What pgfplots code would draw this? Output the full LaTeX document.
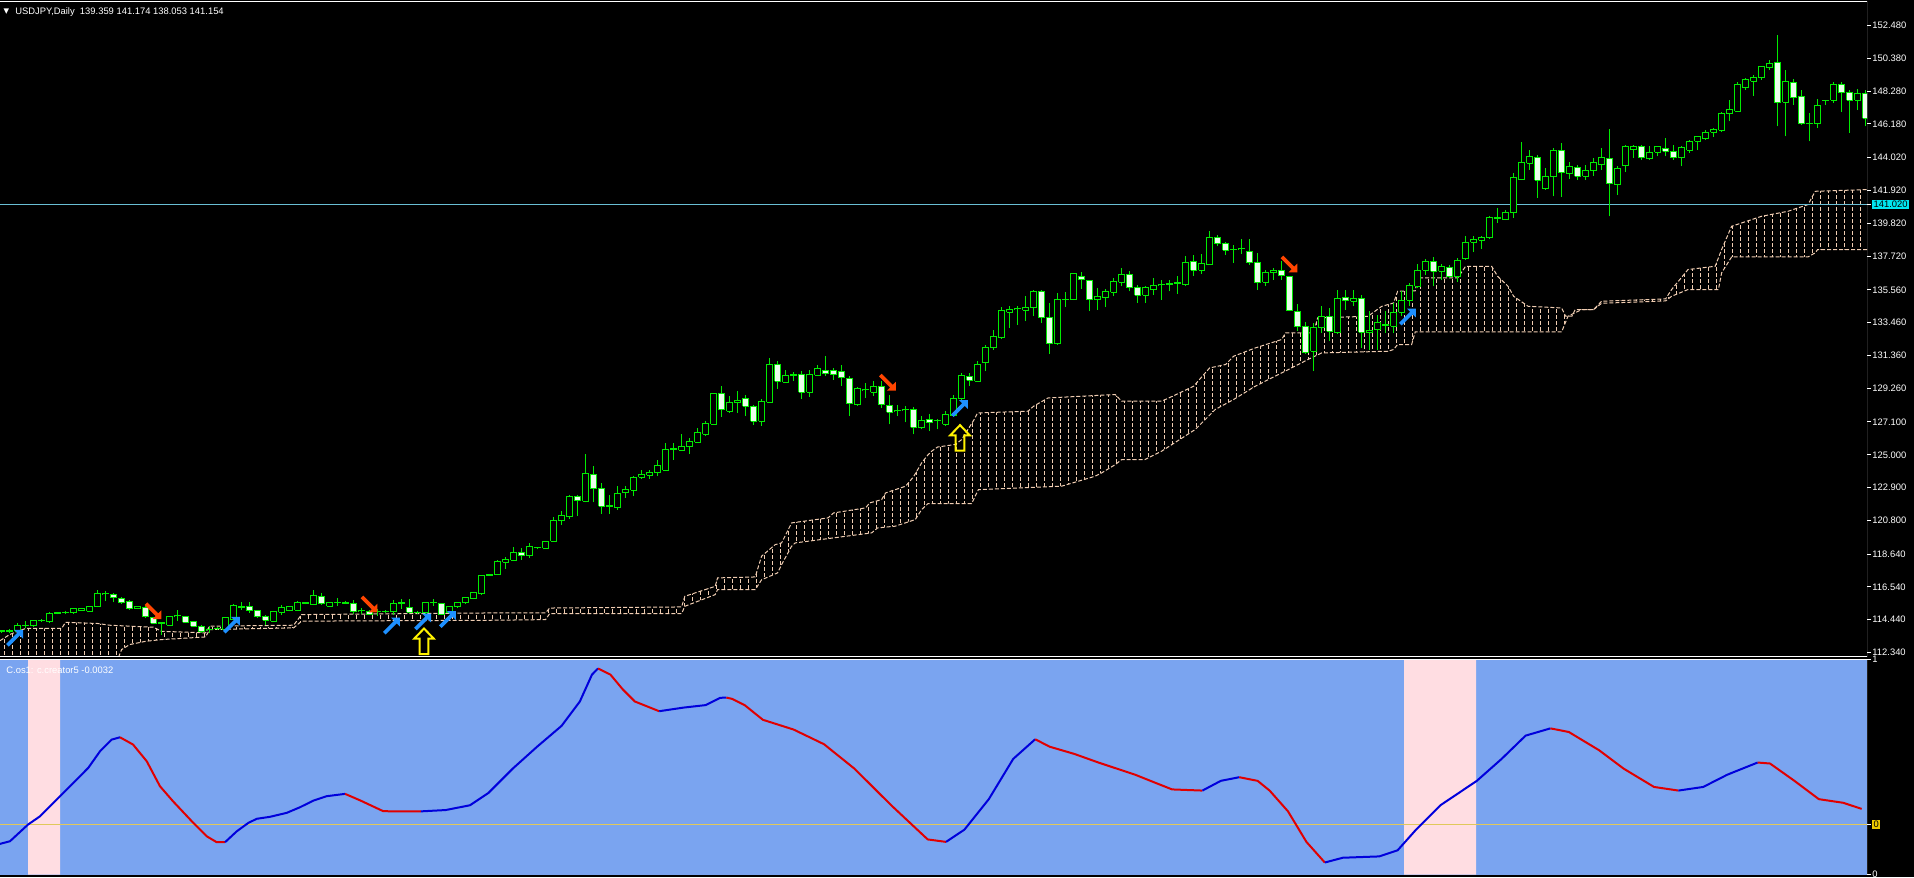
\documentclass[border=0pt]{standalone}
\usepackage{fontspec}
\setmainfont{Liberation Sans}
\newfontfamily\dejavu{DejaVu Sans}
\usepackage{pgfplots}
\pgfplotsset{compat=1.18}
\usetikzlibrary{patterns}

\definecolor{candlegreen}{RGB}{0,235,0}
\definecolor{candlebear}{RGB}{235,255,235}
\definecolor{cloudcol}{RGB}{240,205,178}
\definecolor{oscblue}{RGB}{122,164,240}
\definecolor{bandpink}{RGB}{255,221,226}
\definecolor{cyanline}{RGB}{105,190,212}
\definecolor{labelcyan}{RGB}{0,230,240}
\definecolor{levelyellow}{RGB}{225,200,90}
\definecolor{labelyellow}{RGB}{235,200,0}
\definecolor{arrowblue}{RGB}{30,144,255}
\definecolor{arrowred}{RGB}{255,69,0}
\definecolor{lineblue}{RGB}{0,0,220}
\definecolor{linered}{RGB}{225,0,0}

\pgfdeclarepatternformonly{cloudhatch}{\pgfqpoint{-0.5pt}{-0.5pt}}{\pgfqpoint{4.5pt}{3.5pt}}{\pgfqpoint{4pt}{3pt}}{%
  \pgfsetlinewidth{0.5pt}%
  \pgfpathmoveto{\pgfqpoint{2pt}{0pt}}%
  \pgfpathlineto{\pgfqpoint{2pt}{2pt}}%
  \pgfusepath{stroke}}

\pgfdeclareplotmark{arrowNE}{%
  \pgfpathmoveto{\pgfqpoint{-0.5pt}{3.9pt}}%
  \pgfpathlineto{\pgfqpoint{3.9pt}{3.9pt}}%
  \pgfpathlineto{\pgfqpoint{3.9pt}{-0.5pt}}%
  \pgfpathlineto{\pgfqpoint{2.35pt}{1.05pt}}%
  \pgfpathlineto{\pgfqpoint{-3.2pt}{-4.5pt}}%
  \pgfpathlineto{\pgfqpoint{-4.5pt}{-3.2pt}}%
  \pgfpathlineto{\pgfqpoint{1.05pt}{2.35pt}}%
  \pgfpathclose\pgfusepathqfill}
\pgfdeclareplotmark{arrowSE}{%
  \pgfpathmoveto{\pgfqpoint{-0.5pt}{-3.9pt}}%
  \pgfpathlineto{\pgfqpoint{3.9pt}{-3.9pt}}%
  \pgfpathlineto{\pgfqpoint{3.9pt}{0.5pt}}%
  \pgfpathlineto{\pgfqpoint{2.35pt}{-1.05pt}}%
  \pgfpathlineto{\pgfqpoint{-3.2pt}{4.5pt}}%
  \pgfpathlineto{\pgfqpoint{-4.5pt}{3.2pt}}%
  \pgfpathlineto{\pgfqpoint{1.05pt}{-2.35pt}}%
  \pgfpathclose\pgfusepathqfill}
\pgfdeclareplotmark{arrowUp}{%
  \pgfpathmoveto{\pgfqpoint{0pt}{6.4pt}}%
  \pgfpathlineto{\pgfqpoint{4.9pt}{1.3pt}}%
  \pgfpathlineto{\pgfqpoint{2.2pt}{1.3pt}}%
  \pgfpathlineto{\pgfqpoint{2.2pt}{-6.4pt}}%
  \pgfpathlineto{\pgfqpoint{-2.2pt}{-6.4pt}}%
  \pgfpathlineto{\pgfqpoint{-2.2pt}{1.3pt}}%
  \pgfpathlineto{\pgfqpoint{-4.9pt}{1.3pt}}%
  \pgfpathclose\pgfusepathqstroke}

% candle: index, open, high, low, close
\newcommand\candle[5]{%
  \pgfmathsetmacro\cLo{min(#2,#5)}%
  \pgfmathsetmacro\cHi{max(#2,#5)}%
  \pgfmathsetmacro\cXa{#1-0.33}%
  \pgfmathsetmacro\cXb{#1+0.33}%
  \ifdim #5pt<#2pt \def\cFill{candlebear}\else\def\cFill{black}\fi
  \edef\cTmp{\noexpand\addplot[candlegreen, line width=0.5pt] coordinates {(#1,#4) (#1,#3)};%
    \noexpand\addplot[draw=candlegreen, line width=0.5pt, fill=\cFill] coordinates {(\cXa,\cLo) (\cXb,\cLo) (\cXb,\cHi) (\cXa,\cHi) (\cXa,\cLo)};}%
  \cTmp}

\begin{document}
\begin{tikzpicture}[x=1pt,y=1pt]
\fill[black] (0,0) rectangle (957,-438.5);

\begin{axis}[
  name=main,
  at={(0,-1)}, anchor=north west, scale only axis,
  width=933.5pt, height=327.5pt,
  xmin=-0.2, xmax=233.175, ymin=112.083, ymax=154.016,
  axis background/.style={fill=black},
  axis line style={draw=none},
  xtick=\empty,
  ytick={112.34,114.44,116.54,118.64,120.80,122.90,125.00,127.10,129.26,131.36,133.46,135.56,137.72,139.82,141.92,144.02,146.18,148.28,150.38,152.48},
  yticklabels={112.340,114.440,116.540,118.640,120.800,122.900,125.000,127.100,129.260,131.360,133.460,135.560,137.720,139.820,141.920,144.020,146.180,148.280,150.380,152.480},
  extra y ticks={141.02}, extra y tick labels={141.020},
  extra y tick style={yticklabel style={fill=labelcyan, text=black, inner sep=0.6pt}},
  ytick pos=right, yticklabel pos=right,
  tick align=outside, major tick length=2pt,
  tick style={white, line width=0.5pt},
  yticklabel style={font=\fontsize{4.7}{5.6}\selectfont, text=white, anchor=west, inner sep=0pt, xshift=0.5pt},
]
% Ichimoku cloud: hatched area (top edge, then bottom edge backwards)
\addplot[pattern=cloudhatch, pattern color=cloudcol, draw=none] coordinates {
(-0.2,113.10) (1,113.49) (2,113.70) (3,113.88) (7.5,113.88) (8,114.28) (12,114.20) (13.5,114.09) (19,113.96) (20,113.70) (25.5,113.60) (26,114.03) (36.5,114.09) (37.5,114.77) (62,114.88) (68,114.88) (68.5,115.19) (85,115.26) (85.4,115.94) (89.2,116.58) (89.5,117.12) (94.2,117.18) (95,118.51) (96.7,119.25) (97.5,119.36) (98.75,120.64) (103.3,120.96) (104,121.28) (108,121.60) (108.5,121.92) (110,122.13) (110.5,122.56) (113,122.99) (114,123.6) (115,124.48) (115.8,125.0) (116.25,125.23) (117,125.5) (119.2,125.66) (120,125.97) (121.5,127.2) (122,127.68) (128.3,127.79) (129,128.11) (130.8,128.64) (139.2,128.86) (140,128.43) (145,128.43) (147,128.90) (149,129.39) (151,130.56) (153,130.78) (154,131.31) (156.7,131.84) (160,132.38) (160.5,132.80) (164,132.80) (164.5,133.76) (170.8,133.87) (172.5,134.50) (174,134.72) (174.5,135.47) (176.7,135.50) (177,136.32) (182,136.32) (183,137.07) (186.25,137.07) (187,136.43) (188.3,135.79) (189,135.15) (190.8,134.51) (195,134.40) (195.5,133.87) (196.3,133.87) (196.7,134.30) (199,134.30) (200,134.83) (208,134.98) (208.75,135.58) (210.8,136.86) (214.2,137.07) (215,138.14) (216.25,139.63) (220,140.27) (223.3,140.59) (225.8,141.02) (226.7,141.87) (233.3,141.98)
(233.3,138.14) (227,138.14) (226.7,137.93) (225.8,137.67) (216.25,137.67) (215,136.65) (214.6,135.58) (210.8,135.58) (208.75,135.15) (208,134.85) (200,134.70) (199,134.30) (197.5,134.30) (195.8,133.87) (195,132.87) (176.7,132.87) (176.25,132.06) (174.5,132.06) (174,131.74) (173.3,131.63) (165,131.52) (163.3,131.10) (160,130.24) (156.7,129.39) (154,128.54) (151.7,127.90) (149.2,126.62) (145,125.23) (142.9,124.69) (140,124.69) (139.2,124.37) (137.5,123.84) (136.7,123.63) (132.5,122.99) (122.1,122.77) (121.25,121.88) (115.8,121.88) (115,121.49) (114.2,120.85) (111.7,120.43) (109.5,120.32) (108.75,120.0) (99.2,119.36) (98.75,119.15) (97.5,117.97) (97,117.44) (95,117.0) (94.2,116.37) (89.5,116.37) (89.2,116.05) (85.4,115.30) (85,114.83) (68.5,114.83) (68,114.45) (62,114.41) (37.5,114.35) (36.5,113.92) (26,113.81) (25.5,113.34) (20,113.17) (18,113.06) (16,112.85) (15,112.53) (14.5,111.9) (-0.2,111.9)};
% cloud edges
\addplot[cloudcol, line width=0.5pt, dash pattern=on 2pt off 1pt] coordinates {
(-0.2,113.10) (1,113.49) (2,113.70) (3,113.88) (7.5,113.88) (8,114.28) (12,114.20) (13.5,114.09) (19,113.96) (20,113.70) (25.5,113.60) (26,114.03) (36.5,114.09) (37.5,114.77) (62,114.88) (68,114.88) (68.5,115.19) (85,115.26) (85.4,115.94) (89.2,116.58) (89.5,117.12) (94.2,117.18) (95,118.51) (96.7,119.25) (97.5,119.36) (98.75,120.64) (103.3,120.96) (104,121.28) (108,121.60) (108.5,121.92) (110,122.13) (110.5,122.56) (113,122.99) (114,123.6) (115,124.48) (115.8,125.0) (116.25,125.23) (117,125.5) (119.2,125.66) (120,125.97) (121.5,127.2) (122,127.68) (128.3,127.79) (129,128.11) (130.8,128.64) (139.2,128.86) (140,128.43) (145,128.43) (147,128.90) (149,129.39) (151,130.56) (153,130.78) (154,131.31) (156.7,131.84) (160,132.38) (160.5,132.80) (164,132.80) (164.5,133.76) (170.8,133.87) (172.5,134.50) (174,134.72) (174.5,135.47) (176.7,135.50) (177,136.32) (182,136.32) (183,137.07) (186.25,137.07) (187,136.43) (188.3,135.79) (189,135.15) (190.8,134.51) (195,134.40) (195.5,133.87) (196.3,133.87) (196.7,134.30) (199,134.30) (200,134.83) (208,134.98) (208.75,135.58) (210.8,136.86) (214.2,137.07) (215,138.14) (216.25,139.63) (220,140.27) (223.3,140.59) (225.8,141.02) (226.7,141.87) (233.3,141.98)};
\addplot[cloudcol, line width=0.5pt, dash pattern=on 2pt off 1pt] coordinates {
(-0.2,111.9) (14.5,111.9) (15,112.53) (16,112.85) (18,113.06) (20,113.17) (25.5,113.34) (26,113.81) (36.5,113.92) (37.5,114.35) (62,114.41) (68,114.45) (68.5,114.83) (85,114.83) (85.4,115.30) (89.2,116.05) (89.5,116.37) (94.2,116.37) (95,117.0) (97,117.44) (97.5,117.97) (98.75,119.15) (99.2,119.36) (108.75,120.0) (109.5,120.32) (111.7,120.43) (114.2,120.85) (115,121.49) (115.8,121.88) (121.25,121.88) (122.1,122.77) (132.5,122.99) (136.7,123.63) (137.5,123.84) (139.2,124.37) (140,124.69) (142.9,124.69) (145,125.23) (149.2,126.62) (151.7,127.90) (154,128.54) (156.7,129.39) (160,130.24) (163.3,131.10) (165,131.52) (173.3,131.63) (174,131.74) (174.5,132.06) (176.25,132.06) (176.7,132.87) (195,132.87) (195.8,133.87) (197.5,134.30) (199,134.30) (200,134.70) (208,134.85) (208.75,135.15) (210.8,135.58) (214.6,135.58) (215,136.65) (216.25,137.67) (225.8,137.67) (226.7,137.93) (227,138.14) (233.3,138.14)};

% horizontal line
\addplot[cyanline, line width=0.9pt] coordinates {(-0.2,141.02) (233.175,141.02)};

% candles
\candle{0}{113.70}{113.80}{113.60}{113.72}
\candle{1}{113.71}{113.82}{113.62}{113.73}
\candle{2}{113.71}{114.24}{113.49}{114.07}
\candle{3}{114.08}{114.39}{113.92}{114.10}
\candle{4}{114.07}{114.45}{114.00}{114.39}
\candle{5}{114.40}{114.50}{114.32}{114.41}
\candle{6}{114.30}{114.92}{114.25}{114.84}
\candle{7}{114.86}{114.95}{114.78}{114.88}
\candle{8}{114.90}{115.00}{114.82}{114.92}
\candle{9}{114.88}{115.20}{114.84}{115.14}
\candle{10}{115.03}{115.22}{115.00}{115.18}
\candle{11}{114.99}{115.35}{114.95}{115.31}
\candle{12}{115.26}{116.37}{115.24}{116.09}
\candle{13}{116.10}{116.27}{115.63}{116.12}
\candle{14}{116.05}{116.16}{115.56}{115.84}
\candle{15}{115.80}{115.90}{115.45}{115.52}
\candle{16}{115.58}{115.73}{115.09}{115.16}
\candle{17}{115.14}{115.35}{115.10}{115.31}
\candle{18}{115.24}{115.30}{114.58}{114.62}
\candle{19}{114.56}{114.62}{114.15}{114.20}
\candle{20}{114.22}{114.26}{113.49}{114.24}
\candle{21}{114.09}{114.70}{114.05}{114.67}
\candle{22}{114.70}{115.09}{114.35}{114.71}
\candle{23}{114.62}{114.70}{114.22}{114.28}
\candle{24}{114.30}{114.35}{113.98}{114.03}
\candle{25}{114.03}{114.08}{113.62}{113.66}
\candle{26}{113.80}{114.03}{113.56}{113.81}
\candle{27}{113.87}{113.97}{113.80}{113.88}
\candle{28}{113.81}{114.62}{113.78}{114.56}
\candle{29}{114.45}{115.45}{114.40}{115.37}
\candle{30}{115.25}{115.56}{115.09}{115.26}
\candle{31}{115.26}{115.56}{114.88}{115.03}
\candle{32}{115.03}{115.08}{114.58}{114.62}
\candle{33}{114.67}{114.77}{114.13}{114.41}
\candle{34}{114.35}{115.00}{114.30}{114.96}
\candle{35}{114.92}{115.41}{114.77}{115.20}
\candle{36}{115.03}{115.30}{114.98}{115.26}
\candle{37}{115.05}{115.62}{115.00}{115.56}
\candle{38}{115.50}{115.60}{115.42}{115.52}
\candle{39}{115.41}{116.33}{115.37}{115.99}
\candle{40}{115.95}{116.16}{115.41}{115.48}
\candle{41}{115.31}{115.60}{115.28}{115.56}
\candle{42}{115.55}{115.84}{115.31}{115.56}
\candle{43}{115.51}{115.62}{115.44}{115.52}
\candle{44}{115.46}{115.73}{114.82}{114.94}
\candle{45}{115.02}{115.20}{114.84}{115.03}
\candle{46}{114.99}{115.05}{114.72}{114.77}
\candle{47}{114.98}{115.14}{114.67}{114.99}
\candle{48}{114.98}{115.08}{114.90}{114.99}
\candle{49}{114.94}{115.73}{114.77}{115.46}
\candle{50}{115.50}{115.78}{115.14}{115.52}
\candle{51}{115.20}{115.78}{114.88}{114.92}
\candle{52}{114.91}{115.00}{114.84}{114.92}
\candle{53}{114.88}{115.58}{114.84}{115.52}
\candle{54}{115.55}{115.78}{115.35}{115.56}
\candle{55}{115.46}{115.52}{114.72}{114.77}
\candle{56}{114.88}{115.35}{114.84}{115.31}
\candle{57}{115.26}{115.60}{115.22}{115.56}
\candle{58}{115.52}{115.88}{115.48}{115.84}
\candle{59}{115.80}{116.20}{115.76}{116.16}
\candle{60}{116.09}{117.33}{116.05}{117.27}
\candle{61}{117.30}{117.38}{117.26}{117.33}
\candle{62}{117.33}{118.25}{117.30}{118.19}
\candle{63}{118.12}{118.46}{117.69}{118.29}
\candle{64}{118.25}{119.10}{118.19}{118.76}
\candle{65}{118.72}{119.04}{118.29}{118.55}
\candle{66}{118.55}{119.36}{118.40}{119.10}
\candle{67}{119.06}{119.10}{119.00}{119.08}
\candle{68}{119.02}{119.45}{118.98}{119.42}
\candle{69}{119.47}{121.02}{119.42}{120.81}
\candle{70}{120.79}{121.39}{120.53}{121.11}
\candle{71}{121.02}{122.40}{120.92}{122.35}
\candle{72}{122.30}{122.45}{121.11}{122.05}
\candle{73}{122.03}{125.08}{121.96}{123.80}
\candle{74}{123.71}{124.31}{121.96}{122.82}
\candle{75}{122.82}{123.20}{121.24}{121.71}
\candle{76}{121.70}{122.45}{121.24}{121.73}
\candle{77}{121.60}{123.03}{121.49}{122.52}
\candle{78}{122.56}{122.99}{122.24}{122.77}
\candle{79}{122.73}{123.67}{122.35}{123.52}
\candle{80}{123.56}{124.01}{123.46}{123.73}
\candle{81}{123.69}{124.05}{123.46}{123.88}
\candle{82}{123.84}{124.65}{123.63}{124.31}
\candle{83}{124.01}{125.76}{123.95}{125.33}
\candle{84}{125.36}{125.76}{124.69}{125.38}
\candle{85}{125.29}{126.30}{125.23}{125.50}
\candle{86}{125.50}{126.08}{125.08}{125.87}
\candle{87}{125.80}{126.72}{125.76}{126.44}
\candle{88}{126.30}{127.15}{126.19}{127.00}
\candle{89}{126.94}{128.96}{126.92}{128.92}
\candle{90}{128.90}{129.43}{127.43}{127.90}
\candle{91}{127.79}{128.75}{127.68}{128.32}
\candle{92}{128.32}{129.11}{127.68}{128.49}
\candle{93}{128.58}{128.86}{127.47}{128.11}
\candle{94}{128.11}{128.22}{126.93}{127.15}
\candle{95}{127.15}{128.58}{126.87}{128.43}
\candle{96}{128.37}{131.20}{128.36}{130.78}
\candle{97}{130.78}{130.99}{129.22}{129.71}
\candle{98}{129.64}{130.46}{129.60}{130.07}
\candle{99}{130.10}{130.29}{129.71}{130.12}
\candle{100}{130.14}{130.35}{128.58}{129.01}
\candle{101}{129.01}{130.46}{128.71}{130.14}
\candle{102}{130.10}{130.78}{130.03}{130.50}
\candle{103}{130.41}{131.35}{130.03}{130.20}
\candle{104}{130.41}{130.56}{129.82}{130.14}
\candle{105}{130.35}{130.78}{129.43}{129.92}
\candle{106}{129.86}{130.03}{127.47}{128.28}
\candle{107}{128.22}{129.35}{128.15}{129.22}
\candle{108}{129.15}{129.60}{128.64}{129.18}
\candle{109}{129.01}{129.71}{128.75}{129.35}
\candle{110}{129.35}{129.71}{128.00}{128.22}
\candle{111}{128.17}{128.86}{126.94}{127.73}
\candle{112}{127.81}{128.22}{127.47}{127.83}
\candle{113}{127.88}{128.11}{127.08}{127.90}
\candle{114}{127.90}{128.07}{126.30}{126.76}
\candle{115}{126.72}{127.47}{126.62}{127.21}
\candle{116}{127.26}{127.58}{126.51}{127.04}
\candle{117}{127.20}{127.26}{126.62}{127.22}
\candle{118}{126.94}{127.79}{126.87}{127.58}
\candle{119}{127.51}{128.86}{127.47}{128.58}
\candle{120}{128.58}{130.24}{128.54}{130.09}
\candle{121}{130.03}{130.24}{129.43}{129.77}
\candle{122}{129.71}{130.99}{129.65}{130.78}
\candle{123}{130.88}{132.06}{130.35}{131.89}
\candle{124}{131.84}{133.02}{131.74}{132.59}
\candle{125}{132.48}{134.47}{132.42}{134.23}
\candle{126}{134.13}{134.55}{133.12}{134.30}
\candle{127}{134.35}{134.55}{133.34}{134.36}
\candle{128}{134.26}{135.15}{133.55}{134.40}
\candle{129}{134.40}{135.58}{133.87}{135.43}
\candle{130}{135.43}{135.58}{133.44}{133.76}
\candle{131}{133.76}{134.72}{131.48}{132.10}
\candle{132}{132.10}{135.36}{132.06}{134.94}
\candle{133}{134.92}{135.41}{134.47}{134.96}
\candle{134}{134.94}{136.67}{134.90}{136.60}
\candle{135}{136.43}{136.69}{135.62}{136.22}
\candle{136}{136.18}{136.22}{134.19}{134.94}
\candle{137}{134.94}{135.69}{134.30}{135.15}
\candle{138}{135.04}{135.62}{134.45}{135.47}
\candle{139}{135.41}{136.33}{135.15}{136.11}
\candle{140}{136.05}{136.97}{135.79}{136.54}
\candle{141}{136.54}{136.79}{135.47}{135.69}
\candle{142}{135.69}{135.90}{134.72}{135.22}
\candle{143}{135.22}{135.83}{134.72}{135.69}
\candle{144}{135.58}{136.33}{135.26}{135.83}
\candle{145}{135.88}{136.22}{134.94}{135.90}
\candle{146}{135.92}{136.22}{135.47}{135.94}
\candle{147}{135.99}{136.47}{135.32}{136.01}
\candle{148}{135.90}{137.71}{135.83}{137.33}
\candle{149}{137.39}{137.82}{136.47}{136.82}
\candle{150}{136.82}{137.88}{136.60}{137.24}
\candle{151}{137.18}{139.31}{137.18}{138.89}
\candle{152}{138.89}{139.10}{138.35}{138.50}
\candle{153}{138.50}{138.61}{137.82}{138.10}
\candle{154}{138.14}{138.40}{137.29}{138.16}
\candle{155}{138.18}{138.82}{137.88}{138.20}
\candle{156}{138.03}{138.82}{137.18}{137.29}
\candle{157}{137.29}{137.93}{135.54}{136.01}
\candle{158}{136.05}{136.82}{135.83}{136.69}
\candle{159}{136.65}{136.97}{136.22}{136.82}
\candle{160}{136.79}{137.39}{136.22}{136.47}
\candle{161}{136.43}{136.47}{134.19}{134.23}
\candle{162}{134.19}{134.68}{132.91}{133.19}
\candle{163}{133.23}{133.49}{131.48}{131.52}
\candle{164}{131.63}{133.44}{130.35}{133.12}
\candle{165}{133.12}{134.51}{132.80}{133.83}
\candle{166}{133.83}{134.40}{132.27}{132.91}
\candle{167}{132.80}{135.54}{132.76}{134.98}
\candle{168}{135.04}{135.58}{134.30}{134.87}
\candle{169}{134.83}{135.58}{134.51}{135.00}
\candle{170}{134.98}{135.26}{131.84}{132.85}
\candle{171}{132.80}{134.19}{131.69}{132.97}
\candle{172}{133.02}{133.98}{131.74}{133.44}
\candle{173}{133.30}{134.19}{132.80}{133.34}
\candle{174}{133.23}{134.72}{132.80}{134.13}
\candle{175}{134.13}{135.47}{133.87}{134.89}
\candle{176}{134.89}{136.01}{134.51}{135.83}
\candle{177}{135.79}{137.24}{135.68}{136.82}
\candle{178}{136.82}{137.54}{136.54}{137.39}
\candle{179}{137.39}{137.67}{135.79}{136.75}
\candle{180}{136.75}{137.24}{136.18}{137.03}
\candle{181}{137.01}{137.18}{136.33}{136.39}
\candle{182}{136.39}{137.61}{136.05}{137.46}
\candle{183}{137.54}{138.99}{137.46}{138.61}
\candle{184}{138.61}{139.03}{137.97}{138.78}
\candle{185}{138.74}{139.03}{138.18}{138.88}
\candle{186}{138.88}{140.27}{138.82}{140.16}
\candle{187}{140.14}{140.81}{139.85}{140.18}
\candle{188}{140.06}{140.66}{140.02}{140.53}
\candle{189}{140.48}{143.05}{140.16}{142.73}
\candle{190}{142.62}{145.01}{142.58}{143.69}
\candle{191}{143.65}{144.54}{143.26}{144.07}
\candle{192}{144.01}{144.22}{141.45}{142.58}
\candle{193}{142.02}{143.37}{141.98}{142.79}
\candle{194}{142.79}{144.65}{141.55}{144.50}
\candle{195}{144.50}{144.93}{141.51}{143.05}
\candle{196}{143.00}{143.73}{142.66}{143.43}
\candle{197}{143.37}{143.58}{142.62}{142.83}
\candle{198}{142.83}{143.58}{142.58}{143.20}
\candle{199}{143.20}{144.01}{142.88}{143.73}
\candle{200}{143.58}{144.65}{143.26}{144.01}
\candle{201}{143.94}{145.86}{140.27}{142.36}
\candle{202}{142.30}{143.47}{141.66}{143.32}
\candle{203}{143.52}{144.86}{143.09}{144.71}
\candle{204}{144.54}{144.86}{144.01}{144.71}
\candle{205}{144.71}{144.86}{143.86}{144.01}
\candle{206}{143.94}{144.75}{143.90}{144.33}
\candle{207}{144.37}{144.80}{144.11}{144.71}
\candle{208}{144.60}{145.29}{144.11}{144.43}
\candle{209}{144.43}{144.86}{143.90}{144.01}
\candle{210}{144.01}{144.80}{143.47}{144.69}
\candle{211}{144.50}{145.18}{144.33}{145.07}
\candle{212}{145.07}{145.44}{144.50}{145.39}
\candle{213}{145.22}{145.78}{145.14}{145.65}
\candle{214}{145.65}{145.93}{145.35}{145.82}
\candle{215}{145.78}{146.93}{145.65}{146.82}
\candle{216}{146.82}{147.70}{146.35}{147.10}
\candle{217}{147.00}{148.85}{146.93}{148.70}
\candle{218}{148.49}{149.13}{148.34}{149.02}
\candle{219}{148.91}{149.34}{148.00}{149.13}
\candle{220}{149.13}{149.92}{149.02}{149.83}
\candle{221}{149.77}{150.26}{149.62}{150.05}
\candle{222}{150.09}{151.90}{146.03}{147.53}
\candle{223}{147.57}{149.62}{145.39}{148.87}
\candle{224}{148.81}{149.06}{147.42}{147.85}
\candle{225}{147.91}{148.38}{146.14}{146.20}
\candle{226}{146.22}{146.89}{145.07}{146.20}
\candle{227}{146.18}{147.78}{145.93}{147.38}
\candle{228}{147.69}{147.72}{147.42}{147.71}
\candle{229}{147.70}{148.85}{147.53}{148.70}
\candle{230}{148.70}{148.85}{146.93}{148.17}
\candle{231}{148.17}{148.34}{145.61}{147.70}
\candle{232}{147.70}{148.42}{147.06}{148.13}
\candle{233}{148.13}{148.34}{146.02}{146.53}

% signal arrows
\addplot[only marks, mark=arrowNE, mark options={fill=arrowblue, draw=none}] coordinates {
(1.7,113.30) (28.8,114.13) (48.8,114.07) (52.7,114.34) (55.8,114.49) (119.8,128.00) (175.8,133.86)};
\addplot[only marks, mark=arrowSE, mark options={fill=arrowred, draw=none}] coordinates {
(19.0,114.98) (46.0,115.41) (110.8,129.61) (161.0,137.18)};
\addplot[only marks, mark=arrowUp, mark options={draw=yellow, line width=1pt, fill=none}] coordinates {
(52.8,113.06) (119.8,126.08)};

\draw[white, line width=0.5pt] (rel axis cs:0,1) -- (rel axis cs:1,1) -- (rel axis cs:1,0) -- (rel axis cs:0,0);
\end{axis}

\begin{axis}[
  at={(main.south west)}, anchor=north west, yshift=-1.5pt, scale only axis,
  width=933.5pt, height=107.5pt,
  xmin=0, xmax=233.375, ymin=-0.30303, ymax=1.0,
  axis background/.style={fill=oscblue},
  axis line style={draw=none},
  xtick=\empty,
  ytick={1,-0.30303}, yticklabels={1,0},
  extra y ticks={0}, extra y tick labels={0},
  extra y tick style={yticklabel style={fill=labelyellow, text=black, inner sep=0.6pt}},
  ytick pos=right, yticklabel pos=right,
  tick align=outside, major tick length=2pt,
  tick style={white, line width=0.5pt},
  yticklabel style={font=\fontsize{4.7}{5.6}\selectfont, text=white, anchor=west, inner sep=0pt, xshift=0.5pt},
]
\addplot[fill=bandpink, draw=none] coordinates {(3.5,-0.30303) (7.5,-0.30303) (7.5,1.0) (3.5,1.0) (3.5,-0.30303)};
\addplot[fill=bandpink, draw=none] coordinates {(175.5,-0.30303) (184.5,-0.30303) (184.5,1.0) (175.5,1.0) (175.5,-0.30303)};

\addplot[levelyellow, line width=0.5pt] coordinates {(0,0) (233.375,0)};

\addplot[lineblue, line width=1pt] coordinates {(0,-0.117) (1.25,-0.101) (3.5,0.0) (5,0.05) (7.5,0.172) (9.59,0.273) (11.04,0.344) (12.5,0.444) (13.96,0.515) (15,0.529)};
\addplot[linered, line width=1pt] coordinates {(15,0.529) (16.63,0.485) (18.34,0.384) (20,0.232) (21.63,0.141) (24.13,0.012) (25.84,-0.071) (27.09,-0.107) (28.13,-0.107)};
\addplot[lineblue, line width=1pt] coordinates {(28.13,-0.107) (29.59,-0.041) (31.04,0.010) (32.09,0.035) (33.75,0.047) (35.84,0.071) (37.5,0.105) (39.16,0.145) (40.84,0.172) (43.13,0.186)};
\addplot[linered, line width=1pt] coordinates {(43.13,0.186) (45,0.147) (47.91,0.081) (50,0.080) (52.6,0.080)};
\addplot[lineblue, line width=1pt] coordinates {(52.6,0.080) (55.7,0.088) (58.75,0.117) (61.04,0.191) (64.09,0.339) (67.14,0.472) (70.19,0.598) (72.48,0.746) (74.0,0.909) (74.76,0.946)};
\addplot[linered, line width=1pt] coordinates {(74.76,0.946) (76.3,0.909) (77.83,0.820) (79.35,0.746) (82.4,0.687)};
\addplot[lineblue, line width=1pt] coordinates {(82.4,0.687) (85.45,0.709) (88.2,0.724) (90.03,0.768) (90.8,0.770)};
\addplot[linered, line width=1pt] coordinates {(90.8,0.770) (91.55,0.761) (93.08,0.724) (95.36,0.635) (99.19,0.576) (103.0,0.487) (106.8,0.339) (111.4,0.117) (115.96,-0.090) (118.25,-0.105)};
\addplot[lineblue, line width=1pt] coordinates {(118.25,-0.105) (120.55,-0.031) (123.6,0.154) (126.65,0.398) (129.4,0.517)};
\addplot[linered, line width=1pt] coordinates {(129.4,0.517) (131.2,0.472) (134.3,0.428) (137.3,0.376) (141.9,0.302) (146.5,0.213) (150.3,0.206)};
\addplot[lineblue, line width=1pt] coordinates {(150.3,0.206) (152.6,0.265) (154.9,0.287)};
\addplot[linered, line width=1pt] coordinates {(154.9,0.287) (157.2,0.265) (158.7,0.206) (161.0,0.080) (163.3,-0.105) (165.6,-0.230)};
\addplot[lineblue, line width=1pt] coordinates {(165.6,-0.230) (167.85,-0.201) (172.4,-0.193) (174.7,-0.156) (177.0,-0.031) (180.05,0.117) (184.6,0.265) (187.7,0.398) (190.7,0.539) (193.8,0.583)};
\addplot[linered, line width=1pt] coordinates {(193.8,0.583) (196.1,0.561) (199.9,0.450) (202.95,0.339) (206.75,0.228) (209.8,0.206)};
\addplot[lineblue, line width=1pt] coordinates {(209.8,0.206) (212.9,0.228) (215.9,0.302) (219.7,0.376)};
\addplot[linered, line width=1pt] coordinates {(219.7,0.376) (221.25,0.370) (224.3,0.265) (227.35,0.154) (230.4,0.132) (232.7,0.095)};

\draw[white, line width=0.5pt] (rel axis cs:0,1) -- (rel axis cs:1,1) -- (rel axis cs:1,0);
\end{axis}

\node[anchor=base west, inner sep=0pt, text=white, font=\fontsize{4.7}{5.6}\selectfont] at (7.5,-7.4) {USDJPY,Daily\ \ 139.359 141.174 138.053 141.154};
\node[anchor=base west, inner sep=0pt, text=white, font=\dejavu\fontsize{3.6}{4}\selectfont] at (1.6,-6.9) {▼};
\node[anchor=base west, inner sep=0pt, text=white, font=\fontsize{4.7}{5.6}\selectfont] at (3,-336.5) {C.os1: c.creator5 -0.0032};
\pgfresetboundingbox
\useasboundingbox (0,0) rectangle (957,-438.5);
\end{tikzpicture}
\end{document}
